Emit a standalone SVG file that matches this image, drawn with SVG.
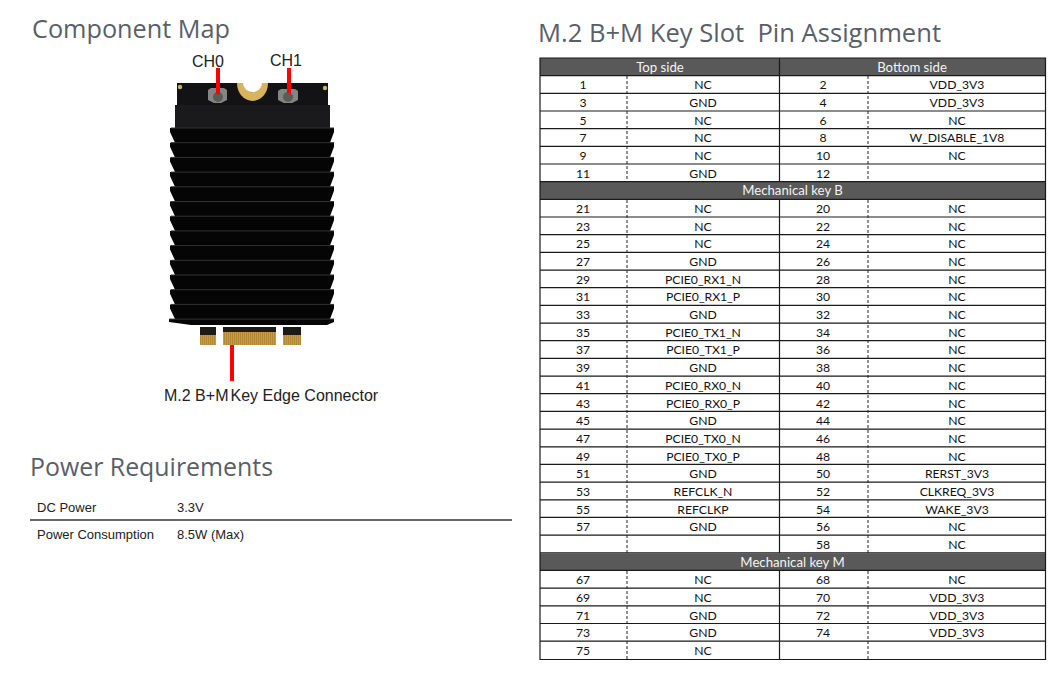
<svg xmlns="http://www.w3.org/2000/svg" width="1062" height="688" viewBox="0 0 1062 688">
<style>
.h{font-family:"Open Sans","Noto Sans",sans-serif;fill:#595f69;font-size:26px;white-space:pre}
.l{font-family:"Liberation Sans",Arial,sans-serif;fill:#222}
.t{font-family:Lato,"Noto Sans",sans-serif;font-size:12.2px;fill:#111;text-anchor:middle}
.w{font-family:Lato,"Noto Sans",sans-serif;font-size:13.2px;fill:#f4f4f4;text-anchor:middle}
.r{stroke:#1a1a1a;stroke-width:1.2;fill:none}
.d{stroke:#222;stroke-width:1;stroke-dasharray:3 2;fill:none}
.g{fill:url(#gold)}
</style>
<defs>
<pattern id="gold" width="2" height="4" patternUnits="userSpaceOnUse"><rect width="2" height="4" fill="#c79c45"/><rect width="0.7" height="4" fill="#a67f30"/></pattern>
</defs>
<rect width="1062" height="688" fill="#fff"/>
<text class="h" x="32" y="38" textLength="198" lengthAdjust="spacingAndGlyphs">Component Map</text>
<text class="h" x="30" y="476" textLength="243" lengthAdjust="spacingAndGlyphs">Power Requirements</text>
<text class="h" x="538" y="42" textLength="403" lengthAdjust="spacingAndGlyphs">M.2 B+M Key Slot  Pin Assignment</text>
<g id="module">
<rect x="177" y="83" width="151" height="23" fill="#131315"/>
<path d="M237 83h31a15.500 18 0 0 1-31 0z" fill="#d8b55c"/>
<path d="M243 83h19a9.500 9 0 0 1-19 0z" fill="#fff"/>
<circle cx="180" cy="87" r="2.200" fill="#c9b468"/><circle cx="325" cy="88" r="2.200" fill="#c9b468"/>
<path d="M208 90l3-2h13l3 2v10l-6 3h-7l-6-3z" fill="#858583"/><circle cx="218" cy="97" r="5" fill="#5a5c55"/>
<path d="M278 91l3-2h14l3 2v9l-6 3h-8l-6-3z" fill="#858583"/><circle cx="288" cy="97" r="5" fill="#5a5c55"/>
<rect x="175" y="105" width="155" height="23" fill="#1a1a1c"/>
<path d="M175 128h-5v4l5 10.700h-5v4l5 10.700h-5v4l5 10.700h-5v4l5 10.700h-5v4l5 10.700h-5v4l5 10.700h-5v4l5 10.700h-5v4l5 10.700h-5v4l5 10.700h-5v4l5 10.700h-5v4l5 10.700h-5v4l5 10.700h-5v4l5 10.700h-6v3l22 3h136l7-3v-3h-4l4-10.700v-4h-4l4-10.700v-4h-4l4-10.700v-4h-4l4-10.700v-4h-4l4-10.700v-4h-4l4-10.700v-4h-4l4-10.700v-4h-4l4-10.700v-4h-4l4-10.700v-4h-4l4-10.700v-4h-4l4-10.700v-4h-4l4-10.700v-4h-4l4-10.700v-4h-4z" fill="#050506"/>
<path d="M171 128H334M171 142.700H334M171 157.400H334M171 172.100H334M171 186.800H334M171 201.500H334M171 216.200H334M171 230.900H334M171 245.600H334M171 260.300H334M171 275H334M171 289.700H334M171 304.400H334M169 319.100H334" stroke="#333336" stroke-width="1" fill="none"/>
<path d="M200 327h16v8h-16zM223 327h53v8h-53zM283 327h18v8h-18z" fill="#1c1b18"/>
<rect class="g" x="200" y="335" width="16" height="10"/>
<rect class="g" x="223" y="332" width="53" height="13"/>
<rect class="g" x="283" y="335" width="18" height="10"/>
</g>
<g id="connectors" fill="#f00">
<rect x="216" y="68" width="4" height="26"/>
<rect x="287" y="68" width="4" height="25"/>
<rect x="230" y="345" width="4" height="36"/>
</g>
<g id="labels" class="l">
<text x="192" y="67" font-size="16">CH0</text>
<text x="270" y="66" font-size="16">CH1</text>
<text x="164" y="401" font-size="16">M.2 B+M <tspan x="230.500">Key Edge Connector</tspan></text>
</g>
<g id="power" class="l" font-size="13">
<text x="37" y="512">DC Power</text><text x="177" y="512">3.3V</text>
<text x="37" y="539">Power Consumption</text><text x="177" y="539">8.5W (Max)</text>
<path d="M30 520H512" stroke="#333" stroke-width="1.500" fill="none"/>
</g>
<g id="table">
<rect x="540" y="58" width="505.500" height="18" fill="#595959"/>
<rect x="540" y="182" width="505.500" height="17.500" fill="#595959"/>
<rect x="540" y="553.500" width="505.500" height="17.500" fill="#595959"/>
<path class="r" d="M540 58H1045.500V659.500H540ZM779.500 58V182M779.500 199.500V553.500M779.500 571V659.500M540 75.700H1045.500M540 93.300H1045.500M540 111H1045.500M540 128.700H1045.500M540 146.400H1045.500M540 164H1045.500M540 181.700H1045.500M540 199.400H1045.500M540 217H1045.500M540 234.700H1045.500M540 252.400H1045.500M540 270.100H1045.500M540 287.700H1045.500M540 305.400H1045.500M540 323.100H1045.500M540 340.700H1045.500M540 358.400H1045.500M540 376.100H1045.500M540 393.700H1045.500M540 411.400H1045.500M540 429.100H1045.500M540 446.800H1045.500M540 464.400H1045.500M540 482.100H1045.500M540 499.800H1045.500M540 517.400H1045.500M540 535.100H1045.500M540 552.800H1045.500M540 570.400H1045.500M540 588.100H1045.500M540 605.800H1045.500M540 623.500H1045.500M540 641.100H1045.500"/>
<path class="d" d="M627 76V182M627 200V553M627 571V659M868 76V182M868 200V553M868 571V659"/>
<text class="w" x="660" y="72">Top side</text><text class="w" x="912" y="72">Bottom side</text>
<text class="w" x="792.500" y="195">Mechanical key B</text><text class="w" x="792.500" y="567">Mechanical key M</text>
<g class="t">
<text x="583" y="89">1</text><text x="703" y="89">NC</text><text x="823" y="89">2</text><text x="957" y="89">VDD_3V3</text>
<text x="583" y="107">3</text><text x="703" y="107">GND</text><text x="823" y="107">4</text><text x="957" y="107">VDD_3V3</text>
<text x="583" y="125">5</text><text x="703" y="125">NC</text><text x="823" y="125">6</text><text x="957" y="125">NC</text>
<text x="583" y="142">7</text><text x="703" y="142">NC</text><text x="823" y="142">8</text><text x="957" y="142">W_DISABLE_1V8</text>
<text x="583" y="160">9</text><text x="703" y="160">NC</text><text x="823" y="160">10</text><text x="957" y="160">NC</text>
<text x="583" y="178">11</text><text x="703" y="178">GND</text><text x="823" y="178">12</text>
<text x="583" y="213">21</text><text x="703" y="213">NC</text><text x="823" y="213">20</text><text x="957" y="213">NC</text>
<text x="583" y="231">23</text><text x="703" y="231">NC</text><text x="823" y="231">22</text><text x="957" y="231">NC</text>
<text x="583" y="248">25</text><text x="703" y="248">NC</text><text x="823" y="248">24</text><text x="957" y="248">NC</text>
<text x="583" y="266">27</text><text x="703" y="266">GND</text><text x="823" y="266">26</text><text x="957" y="266">NC</text>
<text x="583" y="284">29</text><text x="703" y="284">PCIE0_RX1_N</text><text x="823" y="284">28</text><text x="957" y="284">NC</text>
<text x="583" y="301">31</text><text x="703" y="301">PCIE0_RX1_P</text><text x="823" y="301">30</text><text x="957" y="301">NC</text>
<text x="583" y="319">33</text><text x="703" y="319">GND</text><text x="823" y="319">32</text><text x="957" y="319">NC</text>
<text x="583" y="337">35</text><text x="703" y="337">PCIE0_TX1_N</text><text x="823" y="337">34</text><text x="957" y="337">NC</text>
<text x="583" y="354">37</text><text x="703" y="354">PCIE0_TX1_P</text><text x="823" y="354">36</text><text x="957" y="354">NC</text>
<text x="583" y="372">39</text><text x="703" y="372">GND</text><text x="823" y="372">38</text><text x="957" y="372">NC</text>
<text x="583" y="390">41</text><text x="703" y="390">PCIE0_RX0_N</text><text x="823" y="390">40</text><text x="957" y="390">NC</text>
<text x="583" y="408">43</text><text x="703" y="408">PCIE0_RX0_P</text><text x="823" y="408">42</text><text x="957" y="408">NC</text>
<text x="583" y="425">45</text><text x="703" y="425">GND</text><text x="823" y="425">44</text><text x="957" y="425">NC</text>
<text x="583" y="443">47</text><text x="703" y="443">PCIE0_TX0_N</text><text x="823" y="443">46</text><text x="957" y="443">NC</text>
<text x="583" y="461">49</text><text x="703" y="461">PCIE0_TX0_P</text><text x="823" y="461">48</text><text x="957" y="461">NC</text>
<text x="583" y="478">51</text><text x="703" y="478">GND</text><text x="823" y="478">50</text><text x="957" y="478">RERST_3V3</text>
<text x="583" y="496">53</text><text x="703" y="496">REFCLK_N</text><text x="823" y="496">52</text><text x="957" y="496">CLKREQ_3V3</text>
<text x="583" y="514">55</text><text x="703" y="514">REFCLKP</text><text x="823" y="514">54</text><text x="957" y="514">WAKE_3V3</text>
<text x="583" y="531">57</text><text x="703" y="531">GND</text><text x="823" y="531">56</text><text x="957" y="531">NC</text>
<text x="823" y="549">58</text><text x="957" y="549">NC</text>
<text x="583" y="584">67</text><text x="703" y="584">NC</text><text x="823" y="584">68</text><text x="957" y="584">NC</text>
<text x="583" y="602">69</text><text x="703" y="602">NC</text><text x="823" y="602">70</text><text x="957" y="602">VDD_3V3</text>
<text x="583" y="620">71</text><text x="703" y="620">GND</text><text x="823" y="620">72</text><text x="957" y="620">VDD_3V3</text>
<text x="583" y="637">73</text><text x="703" y="637">GND</text><text x="823" y="637">74</text><text x="957" y="637">VDD_3V3</text>
<text x="583" y="655">75</text><text x="703" y="655">NC</text>
</g>
</g>
</svg>
